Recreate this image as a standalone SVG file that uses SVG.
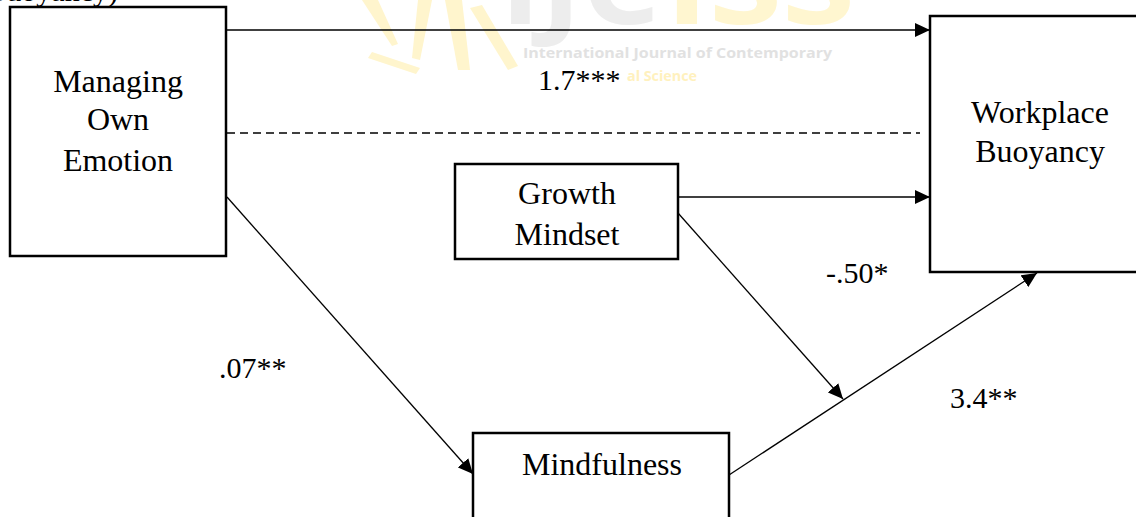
<svg xmlns="http://www.w3.org/2000/svg" width="1136" height="517" viewBox="0 0 1136 517">
<defs>
<style>
.box{fill:#fff;stroke:#000;stroke-width:2.5}
.lbl{font-family:"Liberation Serif","Times New Roman",serif;font-size:30px;fill:#000}
.nd{font-size:32px}
.c{text-anchor:middle}
.ln{fill:none;stroke:#000;stroke-width:1.3}
.wm{font-family:"Open Sans","Liberation Sans",sans-serif;font-weight:bold}
</style>
<marker id="ah" markerUnits="userSpaceOnUse" markerWidth="16" markerHeight="14" refX="15" refY="7" orient="auto">
<path d="M0,0 L15,7 L0,14 z" fill="#000"/>
</marker>
</defs>
<rect width="1136" height="517" fill="#fff"/>
<g id="watermark" opacity="0.9">
<path d="M362,0 L378,0 L398,44 L392,46 z" fill="#fff5c8"/>
<path d="M418,0 L432,0 L420,60 L412,58 z" fill="#fff5c8"/>
<path d="M445,0 L462,0 L470,70 L458,70 z" fill="#fff5c8"/>
<path d="M470,8 L482,5 L518,66 L508,70 z" fill="#fff5c8"/>
<path d="M372,52 L420,68 L416,74 L368,58 z" fill="#fff5c8"/>
<text class="wm" x="500" y="24" font-size="110" fill="#ececec" textLength="160" lengthAdjust="spacingAndGlyphs">IJC</text>
<text class="wm" x="665" y="24" font-size="110" fill="#fff6cc" textLength="190" lengthAdjust="spacingAndGlyphs">ISS</text>
<text class="wm" x="523" y="58" font-size="15" fill="#dedede" textLength="309" lengthAdjust="spacingAndGlyphs">International Journal of Contemporary</text>
<text class="wm" x="627" y="81" font-size="15" fill="#fff0b8" textLength="70" lengthAdjust="spacingAndGlyphs">al Science</text>
</g>
<text class="lbl" x="118" y="1" text-anchor="end">Buoyancy)</text>
<g id="connectors">
<line class="ln" x1="227" y1="30" x2="930" y2="30" stroke="#333" stroke-width="1.6" marker-end="url(#ah)"/>
<line class="ln" x1="227" y1="133" x2="920" y2="133" stroke-width="1.6" stroke-dasharray="8 5"/>
<line class="ln" x1="678" y1="197" x2="930" y2="197" marker-end="url(#ah)"/>
<line class="ln" x1="678" y1="213" x2="843" y2="399" marker-end="url(#ah)"/>
<line class="ln" x1="729" y1="475" x2="1037" y2="273" marker-end="url(#ah)"/>
<line class="ln" x1="227" y1="197" x2="473" y2="474" marker-end="url(#ah)"/>
</g>
<g id="labels">
<text class="lbl" x="538" y="90">1.7***</text>
<text class="lbl" x="826" y="283">-.50*</text>
<text class="lbl" x="950" y="408">3.4**</text>
<text class="lbl" x="219" y="378">.07**</text>
</g>
<g id="node-managing">
<rect class="box" x="10" y="7" width="216" height="249"/>
<text class="lbl nd c" x="118" y="92">Managing</text>
<text class="lbl nd c" x="118" y="130">Own</text>
<text class="lbl nd c" x="118" y="171">Emotion</text>
</g>
<g id="node-workplace">
<rect class="box" x="930" y="16" width="220" height="256"/>
<text class="lbl nd c" x="1040" y="123">Workplace</text>
<text class="lbl nd c" x="1040" y="162">Buoyancy</text>
</g>
<g id="node-growth">
<rect class="box" x="455" y="164" width="223" height="95"/>
<text class="lbl nd c" x="567" y="204">Growth</text>
<text class="lbl nd c" x="567" y="245">Mindset</text>
</g>
<g id="node-mindfulness">
<rect class="box" x="473" y="433" width="256" height="100"/>
<text class="lbl nd c" x="602" y="475">Mindfulness</text>
</g>
</svg>
